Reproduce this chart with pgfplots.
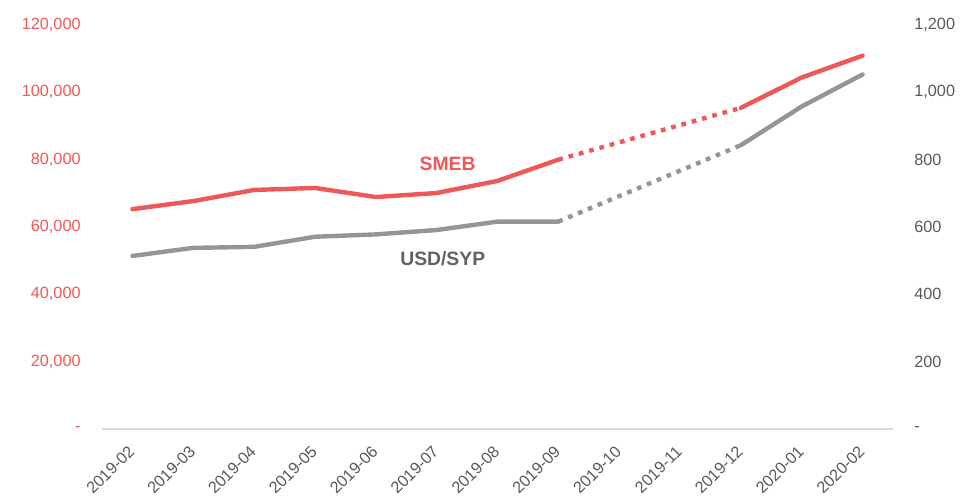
\documentclass[border=0pt]{standalone}
\usepackage{fontspec}
\setmainfont{Liberation Sans}
\usepackage{pgfplots}
\pgfplotsset{compat=1.18}
\definecolor{smeb}{HTML}{EE5859}
\definecolor{usd}{HTML}{939598}
\definecolor{txt}{HTML}{595959}
\begin{document}
\begin{tikzpicture}
\pgfplotsset{
 common/.style={
  scale only axis,
  width=593.25pt, height=303pt,
  xmin=-0.5, xmax=12.5, ymin=0,
  major tick length=0pt,
  scaled y ticks=false,
  /pgf/number format/assume math mode=true,
  tick label style={font=\fontsize{12.2}{14}\selectfont},
  clip=false,
 },
 solidl/.style={line width=3.3pt, line cap=round, line join=round},
 dotl/.style={line width=3.3pt, line cap=butt, dash pattern=on 3.5pt off 4.5pt},
}
\begin{axis}[common, name=ax, ymax=120000,
  axis x line*=bottom, axis y line*=left,
  y axis line style={draw=none},
  x axis line style={draw=black!15, line width=0.9pt, -},
  xtick={0,...,12},
  xticklabels={2019-02,2019-03,2019-04,2019-05,2019-06,2019-07,2019-08,2019-09,2019-10,2019-11,2019-12,2020-01,2020-02},
  xticklabel style={rotate=45, anchor=east, text=txt, xshift=-7.5pt, yshift=-10pt},
  ytick={0,20000,40000,60000,80000,100000,120000},
  yticklabels={{-\hspace{7.5pt}},{20,000},{40,000},{60,000},{80,000},{100,000},{120,000}},
  yticklabel style={text=smeb, xshift=-12.5pt},
]
\addplot[smeb, solidl] coordinates {(0,65300) (1,67700) (2,71000) (3,71600) (4,68900) (5,70100) (6,73700) (7,80000)};
\addplot[smeb, dotl] coordinates {(7,80000) (10,95400)};
\addplot[smeb, solidl] coordinates {(10,95400) (11,104400) (12,110900)};
\node[text=smeb, font=\fontsize{14.5}{16}\selectfont\bfseries] at (axis cs:5.18,78700) {SMEB};
\end{axis}
\begin{axis}[common, ymax=1200,
  axis x line=none, axis y line*=right,
  y axis line style={draw=none},
  ytick={0,200,400,600,800,1000,1200},
  yticklabels={{-},200,400,600,800,{1,000},{1,200}},
  yticklabel style={text=txt, anchor=west, xshift=12.5pt},
]
\addplot[usd, solidl] coordinates {(0,514) (1,538) (2,541) (3,571) (4,578) (5,591) (6,616) (7,616)};
\addplot[usd, dotl] coordinates {(7,616) (10,843)};
\addplot[usd, solidl] coordinates {(10,843) (11,958) (12,1053)};
\node[text=txt!85!usd, font=\fontsize{14.5}{16}\selectfont\bfseries] at (axis cs:5.10,506) {USD/SYP};
\end{axis}
\path (ax.south west) ++(-76.5pt,-54pt) rectangle ++(720pt,375.75pt);
\end{tikzpicture}
\end{document}
